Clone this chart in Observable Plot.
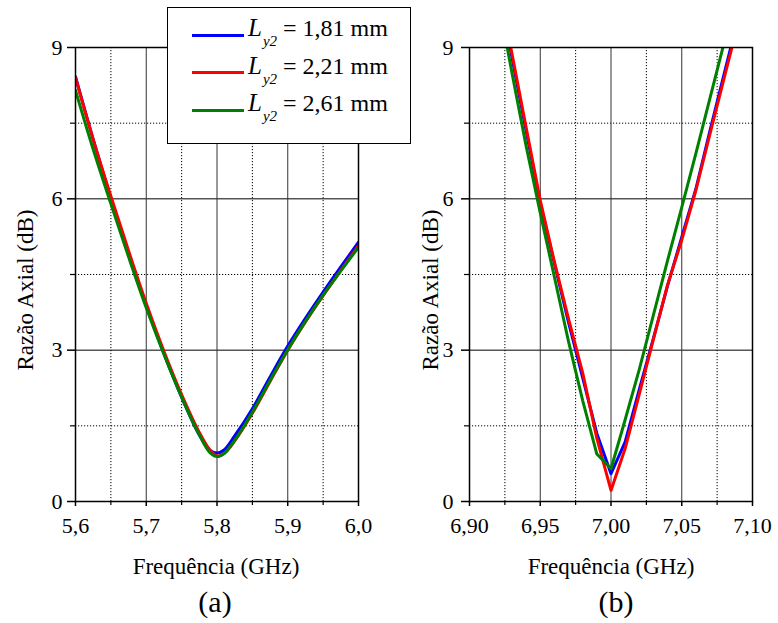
<!DOCTYPE html>
<html>
<head>
<meta charset="utf-8">
<script src="https://cdn.jsdelivr.net/npm/d3@7"></script>
<script src="https://cdn.jsdelivr.net/npm/@observablehq/plot@0.6"></script>
<style>
  body { margin: 0; background: #fff; }
  #wrap { position: relative; width: 778px; height: 623px; font-family: 'Liberation Serif', 'Times New Roman', serif; color: #000; }
  .panel { position: absolute; top: 0; }
  .lbl { position: absolute; white-space: nowrap; font-size: 23px; transform: translate(-50%, -50%); }
  .ylbl { position: absolute; white-space: nowrap; font-size: 23px; transform: translate(-50%, -50%) rotate(-90deg); }
  .cap { position: absolute; white-space: nowrap; font-size: 30px; transform: translate(-50%, -50%); }
  #legend { position: absolute; left: 167px; top: 7px; width: 242px; height: 135px; border: 1px solid #000; background: #fff; }
  .row { position: absolute; left: 0; width: 100%; height: 0; }
  .sample { position: absolute; left: 24px; width: 52px; height: 3px; top: -1.5px; }
  .ltxt { position: absolute; left: 80px; top: 0; transform: translateY(-58%); font-size: 24px; white-space: nowrap; }
  .ltxt i { font-size: 25px; }
  .ltxt sub { font-size: 15px; font-style: italic; vertical-align: -10px; margin-left: 1px; }
</style>
</head>
<body>
<div id="wrap"></div>
<script>
// ---------- data ----------
const seriesNames = ["1,81 mm", "2,21 mm", "2,61 mm"];
const seriesColors = ["#0000ff", "#ff0000", "#008000"];

// panel (a)
const freqA  = [5.600, 5.625, 5.650, 5.675, 5.700, 5.725, 5.750, 5.775, 5.790, 5.800, 5.810, 5.825, 5.850, 5.875, 5.900, 5.925, 5.950, 5.975, 6.000];
const blueA  = [8.42, 7.18, 6.02, 4.92, 3.88, 2.93, 2.07, 1.32, 1.02, 0.96, 1.02, 1.30, 1.84, 2.47, 3.08, 3.63, 4.15, 4.65, 5.14];
const redA   = [8.40, 7.18, 6.05, 4.97, 3.93, 2.98, 2.12, 1.37, 1.02, 0.90, 0.95, 1.20, 1.75, 2.38, 3.00, 3.56, 4.08, 4.58, 5.07];
const greenA = [8.15, 6.98, 5.90, 4.85, 3.84, 2.92, 2.07, 1.32, 0.97, 0.89, 0.95, 1.21, 1.77, 2.40, 3.01, 3.57, 4.09, 4.57, 5.04];

// panel (b)
const freqB  = [6.92, 6.93, 6.94, 6.95, 6.96, 6.97, 6.98, 6.99, 7.00, 7.01, 7.02, 7.03, 7.04, 7.05, 7.06, 7.07, 7.08, 7.09];
const blueB  = [10.3, 8.80, 7.35, 5.92, 4.72, 3.55, 2.45, 1.35, 0.55, 1.18, 2.22, 3.24, 4.28, 5.24, 6.20, 7.36, 8.48, 9.60];
const redB   = [10.3, 8.88, 7.42, 5.97, 4.75, 3.62, 2.55, 1.25, 0.22, 1.05, 2.13, 3.22, 4.30, 5.18, 6.17, 7.29, 8.40, 9.50];
const greenB = [10.0, 8.50, 7.05, 5.72, 4.45, 3.17, 2.00, 0.94, 0.65, 1.62, 2.62, 3.70, 4.78, 5.83, 6.90, 8.00, 9.10, 10.2];

// axes
const yMajor = [0, 3, 6, 9];
const yMinor = [1.5, 4.5, 7.5];
const xMajorA = [5.6, 5.7, 5.8, 5.9, 6.0];
const xMinorA = [5.65, 5.75, 5.85, 5.95];
const xMajorB = [6.90, 6.95, 7.00, 7.05, 7.10];
const xMinorB = [6.925, 6.975, 7.025, 7.075];

// ---------- drawing ----------
const wrap = document.getElementById("wrap");

function panel(freq, sets, xDomain, xMajor, xMinor, decimals, left, mLeft, mRight, yPad, curve) {
  const fmt = d => d.toFixed(decimals).replace(".", ",");
  const lines = sets.map((vals, i) =>
    Plot.line(freq.map((f, j) => ({f, v: vals[j]})), {
      x: "f", y: "v", stroke: seriesColors[i], strokeWidth: 3, curve, clip: true
    })
  );
  const plot = Plot.plot({
    width: 389, height: 545,
    marginTop: 47, marginBottom: 44, marginLeft: mLeft, marginRight: mRight,
    style: {fontFamily: "'Liberation Serif', 'Times New Roman', serif", fontSize: "22px", background: "transparent", color: "#000"},
    x: {domain: xDomain, label: null},
    y: {domain: [0, 9], label: null},
    marks: [
      Plot.ruleY(yMinor, {stroke: "#000", strokeWidth: 1, strokeDasharray: "1.2,1.8"}),
      Plot.ruleX(xMinor, {stroke: "#000", strokeWidth: 1, strokeDasharray: "1.2,1.8"}),
      Plot.ruleY(yMajor.slice(1, -1), {stroke: "#000", strokeWidth: 1}),
      Plot.ruleX(xMajor.slice(1, -1), {stroke: "#333", strokeWidth: 1}),
      Plot.axisX(xMajor, {tickSize: 5, tickPadding: 11, tickFormat: fmt, fontSize: 22, label: null, strokeWidth: 1.5}),
      Plot.axisX(xMinor, {tickSize: 4, tickFormat: () => "", label: null, strokeWidth: 1.2}),
      Plot.axisY(yMajor, {tickSize: 8, tickPadding: yPad, tickFormat: d => String(d), fontSize: 22, label: null, strokeWidth: 1.5}),
      Plot.axisY(yMinor, {tickSize: 5, tickFormat: () => "", label: null, strokeWidth: 1.2}),
      ...lines,
      Plot.frame({stroke: "#000", strokeWidth: 1.5})
    ]
  });
  plot.classList.add("panel");
  plot.style.left = left + "px";
  wrap.appendChild(plot);
}

panel(freqA, [blueA, redA, greenA], [5.6, 6.0], xMajorA, xMinorA, 1, 0, 75, 31, 5, "catmull-rom");
panel(freqB, [blueB, redB, greenB], [6.9, 7.1], xMajorB, xMinorB, 2, 389, 80, 26, 8, "linear");

function addText(cls, txt, x, y) {
  const d = document.createElement("div");
  d.className = cls;
  d.textContent = txt;
  d.style.left = x + "px";
  d.style.top = y + "px";
  wrap.appendChild(d);
}
addText("ylbl", "Razão Axial (dB)", 26, 290);
addText("ylbl", "Razão Axial (dB)", 431, 290);
addText("lbl", "Frequência (GHz)", 216, 567);
addText("lbl", "Frequência (GHz)", 611, 567);
addText("cap", "(a)", 215, 602);
addText("cap", "(b)", 616, 602);

// legend
const legend = document.createElement("div");
legend.id = "legend";
seriesNames.forEach((name, i) => {
  const row = document.createElement("div");
  row.className = "row";
  row.style.top = (27 + i * 37.5) + "px";
  const s = document.createElement("div");
  s.className = "sample";
  s.style.background = seriesColors[i];
  const t = document.createElement("div");
  t.className = "ltxt";
  t.innerHTML = "<i>L</i><sub>y2</sub> = " + name;
  row.appendChild(s);
  row.appendChild(t);
  legend.appendChild(row);
});
wrap.appendChild(legend);
</script>
</body>
</html>
